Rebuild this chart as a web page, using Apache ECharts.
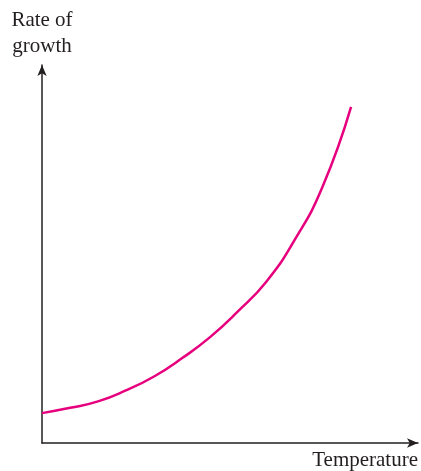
<!DOCTYPE html>
<html>
<head>
<meta charset="utf-8">
<script src="https://cdn.jsdelivr.net/npm/echarts@6/dist/echarts.min.js"></script>
<style>html,body{margin:0;padding:0;background:#fff}#c{width:421px;height:471px}</style>
</head>
<body>
<div id="c"></div>
<script>
const temperature = [0, 7.5, 14.9, 22.3, 29.8, 37.2, 44.7, 52.1, 59.6, 67.0, 74.5, 82.2];
const growthRate  = [7.9, 9.3, 11.0, 13.9, 17.6, 22.4, 28.0, 34.8, 42.6, 53.4, 67.5, 88.9];
const xTitle = 'Temperature';
const yTitle = 'Rate of\ngrowth';

const chart = echarts.init(document.getElementById('c'), null, {renderer: 'canvas'});
const axisLine = {show: true, symbol: ['none', 'arrow'], symbolSize: [7, 11], lineStyle: {color: '#231f20', width: 1.5}};
chart.setOption({
  animation: false,
  grid: {left: 42, right: 3, top: 65, bottom: 28, containLabel: false},
  xAxis: {
    type: 'value', min: 0, max: 100,
    axisLine: axisLine, axisTick: {show: false}, axisLabel: {show: false}, splitLine: {show: false},
    name: xTitle, nameLocation: 'end', nameGap: 0,
    nameTextStyle: {fontFamily: 'Liberation Serif', fontSize: 21, color: '#231f20', align: 'right', verticalAlign: 'top', padding: [7, 0, 0, 0]}
  },
  yAxis: {
    type: 'value', min: 0, max: 100,
    axisLine: axisLine, axisTick: {show: false}, axisLabel: {show: false}, splitLine: {show: false},
    name: yTitle, nameLocation: 'end', nameGap: 6,
    nameTextStyle: {fontFamily: 'Liberation Serif', fontSize: 21, lineHeight: 26, color: '#231f20', align: 'center'}
  },
  series: [{
    type: 'line', data: temperature.map((t, i) => [t, growthRate[i]]),
    smooth: true, symbol: 'none',
    lineStyle: {color: '#e6007e', width: 2.5}
  }]
});
</script>
</body>
</html>
